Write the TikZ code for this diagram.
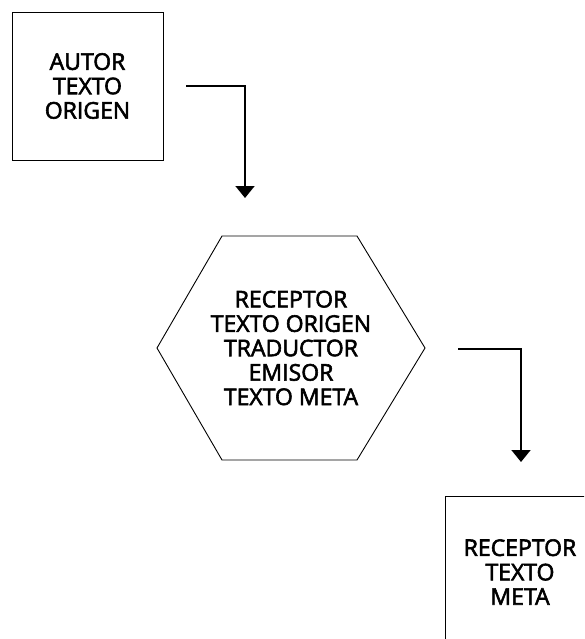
\documentclass[tikz,border=0pt]{standalone}
\usepackage{fontspec}
\newfontfamily\diafont[FakeBold=2.5]{Open Sans}
\usetikzlibrary{arrows.meta}
\begin{document}
\begin{tikzpicture}[x=1pt,y=-1pt,
  txt/.style={align=center,font=\diafont\fontsize{23}{24.4}\selectfont,inner sep=0pt},
  boxframe/.style={draw,line width=0.9pt,minimum width=151pt,minimum height=148pt,inner sep=0pt},
  flow/.style={line width=1.8pt,-{Triangle[width=19pt,length=12pt]}}]
\useasboundingbox (0,0) rectangle (584,639);
\clip (0,0) rectangle (584,639);
\node[boxframe,txt] (autor) at (87.5,86) {AUTOR\\TEXTO\\ORIGEN};
\coordinate (hc) at (291,348);
\draw[line width=0.9pt] (222,236) -- (357,236) -- (425,348) -- (357,460) -- (222,460) -- (157,348) -- cycle;
\node[txt] (hex) at (hc) {RECEPTOR\\TEXTO ORIGEN\\TRADUCTOR\\EMISOR\\TEXTO META};
\node[boxframe,txt,minimum width=170pt] (rec) at (530,570) {};
\node[txt] (rectxt) at (520,572) {RECEPTOR\\TEXTO\\META};
\coordinate (s1) at (186,86);
\coordinate (e1) at (245,198);
\coordinate (s2) at (458,349);
\coordinate (e2) at (521,462);
\draw[flow] (s1) -| (e1);
\draw[flow] (s2) -| (e2);
\end{tikzpicture}
\end{document}
